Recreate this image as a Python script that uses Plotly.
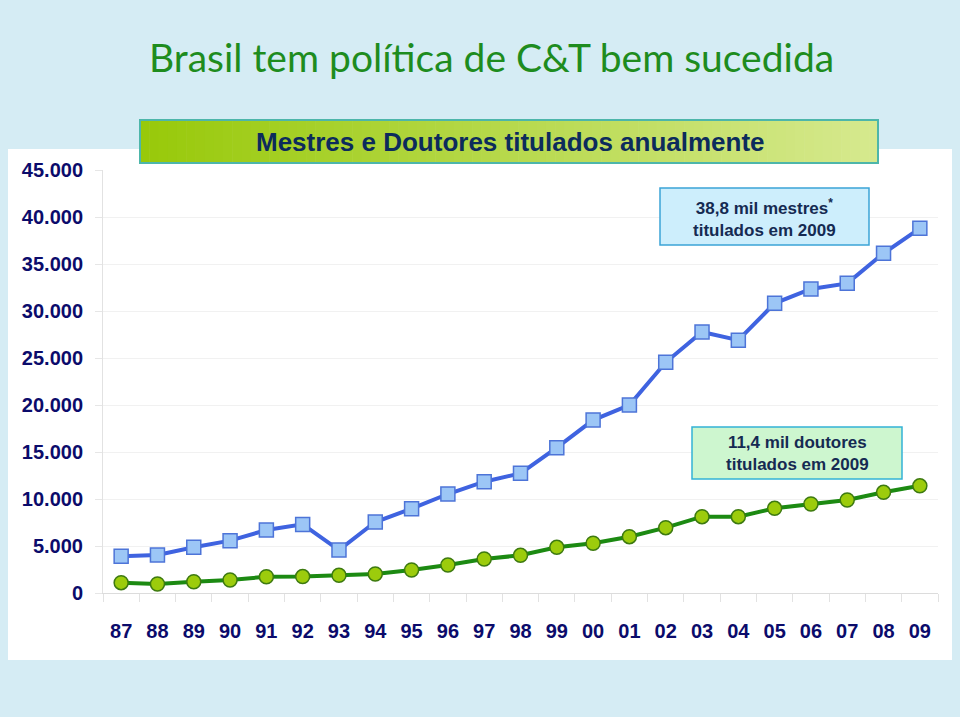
import plotly.graph_objects as go

# ---- data ----
years = ["87", "88", "89", "90", "91", "92", "93", "94", "95", "96", "97", "98",
         "99", "00", "01", "02", "03", "04", "05", "06", "07", "08", "09"]
mestres = [3900, 4040, 4860, 5570, 6700, 7300, 4570, 7550, 8970, 10530, 11840, 12730,
           15460, 18400, 20000, 24540, 27770, 26900, 30820, 32340, 32940, 36140, 38800]
doutores = [1100, 960, 1200, 1380, 1730, 1750, 1880, 2020, 2450, 2980, 3620, 4010,
            4860, 5290, 5990, 6950, 8120, 8120, 9010, 9470, 9890, 10710, 11400]
y_ticks = [0, 5000, 10000, 15000, 20000, 25000, 30000, 35000, 40000, 45000]

main_title = "Brasil tem política de C&T bem sucedida"
box_title = "Mestres e Doutores titulados anualmente"
note_m = "38,8 mil mestres<sup>*</sup><br>titulados em 2009"
note_d = "11,4 mil doutores<br>titulados em 2009"

# ---- layout geometry (pixels) ----
W, H = 960, 717
L, R, T, B = 103, 22, 170, 124
PW = W - L - R
PH = H - T - B


def px(x):
    return (x - L) / PW


def py(y):
    return (H - B - y) / PH


NAVY = "#0b0b6b"
ARIAL = "Arial, Liberation Sans, sans-serif"

fig = go.Figure()
fig.add_trace(go.Scatter(
    x=years, y=mestres, mode="lines+markers", name="Mestres",
    line=dict(color="#3f63e0", width=4),
    marker=dict(symbol="square", size=14, color="#9cc6f6",
                line=dict(color="#4d74d8", width=1.5)),
))
fig.add_trace(go.Scatter(
    x=years, y=doutores, mode="lines+markers", name="Doutores",
    line=dict(color="#1c8a12", width=4),
    marker=dict(symbol="circle", size=14, color="#9ccc0c",
                line=dict(color="#3d7a10", width=1.5)),
))

shapes = []
# white panel
shapes.append(dict(type="rect", xref="paper", yref="paper",
                   x0=px(8), x1=px(952), y0=py(660), y1=py(149),
                   fillcolor="white", line=dict(width=0), layer="below"))

# gradient title box (strips)
x0b, x1b, y0b, y1b = 140, 878, 120, 163
c0 = (0x98, 0xc9, 0x0a)
c1 = (0xd6, 0xe9, 0x8e)
N = 80
for i in range(N):
    t = i / (N - 1)
    c = tuple(int(round(c0[k] + (c1[k] - c0[k]) * t)) for k in range(3))
    xa = x0b + (x1b - x0b) * i / N
    xb = x0b + (x1b - x0b) * (i + 1) / N + 0.6
    shapes.append(dict(type="rect", xref="paper", yref="paper",
                       x0=px(xa), x1=px(min(xb, x1b)), y0=py(y1b), y1=py(y0b),
                       fillcolor="rgb(%d,%d,%d)" % c, line=dict(width=0), layer="below"))
shapes.append(dict(type="rect", xref="paper", yref="paper",
                   x0=px(x0b), x1=px(x1b), y0=py(y1b), y1=py(y0b),
                   fillcolor="rgba(0,0,0,0)", line=dict(color="#4db6aa", width=2), layer="below"))

# note boxes
shapes.append(dict(type="rect", xref="paper", yref="paper",
                   x0=px(660), x1=px(869), y0=py(245), y1=py(188),
                   fillcolor="#cdeefc", line=dict(color="#3ba4d6", width=1.5), layer="above"))
shapes.append(dict(type="rect", xref="paper", yref="paper",
                   x0=px(692), x1=px(902), y0=py(479), y1=py(427),
                   fillcolor="#cdf6cf", line=dict(color="#33b2d6", width=1.5), layer="above"))

annotations = [
    dict(text=main_title, xref="paper", yref="paper", x=px(491), y=py(57),
         xanchor="center", yanchor="middle", showarrow=False,
         font=dict(family="Lato, sans-serif", size=39, color="#1e8c1e")),
    dict(text=box_title, xref="paper", yref="paper", x=px(510), y=py(142),
         xanchor="center", yanchor="middle", showarrow=False,
         font=dict(family=ARIAL, size=26, color="#0c2b5c", weight="bold")),
    dict(text=note_m, xref="paper", yref="paper", x=px(764), y=py(218),
         xanchor="center", yanchor="middle", showarrow=False,
         font=dict(family=ARIAL, size=17, color="#152a52", weight="bold")),
    dict(text=note_d, xref="paper", yref="paper", x=px(797), y=py(453),
         xanchor="center", yanchor="middle", showarrow=False,
         font=dict(family=ARIAL, size=17, color="#152a52", weight="bold")),
]

fig.update_layout(
    width=W, height=H,
    margin=dict(l=L, r=R, t=T, b=B),
    paper_bgcolor="#d5ecf4",
    plot_bgcolor="white",
    separators=",.",
    showlegend=False,
    shapes=shapes,
    annotations=annotations,
    xaxis=dict(type="category", range=[-0.5, len(years) - 0.5],
               tickson="boundaries", ticks="outside", ticklen=8, tickcolor="#e2e2e2",
               showline=True, linecolor="#dcdcdc", linewidth=1, showgrid=False,
               tickfont=dict(family=ARIAL, size=20, color=NAVY, weight="bold"),
               ticklabelstandoff=20, fixedrange=True),
    yaxis=dict(range=[0, 45000], tickvals=y_ticks, tickformat=",d",
               ticks="outside", ticklen=7, tickcolor="#e6e6e6",
               showline=True, linecolor="#e2e2e2", linewidth=1,
               showgrid=True, gridcolor="#f1f1f1", zeroline=False,
               tickfont=dict(family=ARIAL, size=20, color=NAVY, weight="bold"),
               ticklabelstandoff=8, fixedrange=True),
    font=dict(family=ARIAL),
)

fig.write_html("out.html")
